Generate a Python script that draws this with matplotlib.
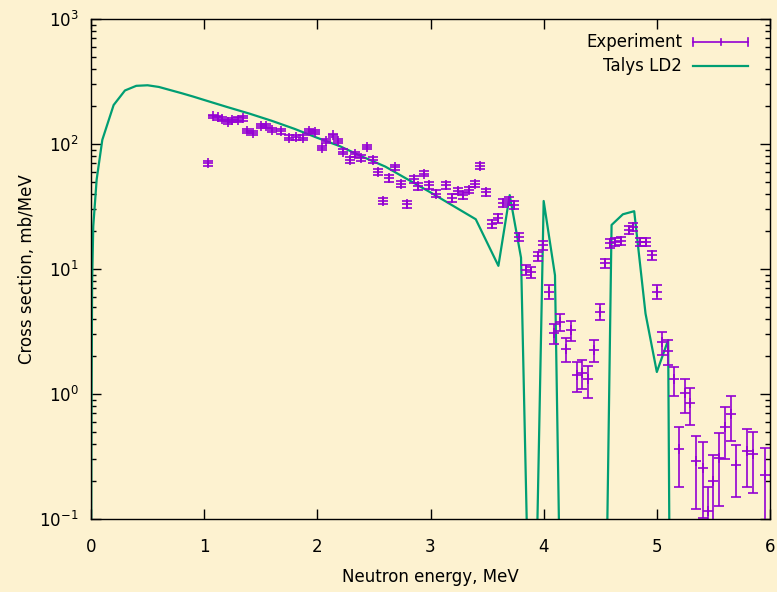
import matplotlib
matplotlib.use('Agg')
import matplotlib.pyplot as plt
from matplotlib.lines import Line2D
from matplotlib.ticker import LogLocator, NullLocator, MultipleLocator

# TALYS calculation (LD model 2), mb/MeV
talys_e = [0.001, 0.005, 0.01, 0.02, 0.05, 0.1, 0.2, 0.3, 0.4, 0.5,
           0.6, 0.7, 0.8, 0.9, 1.0, 1.2, 1.4, 1.6, 1.8, 2.0,
           2.2, 2.4, 2.6, 2.8, 3.0, 3.2, 3.4, 3.6, 3.7, 3.8,
           3.9, 4.0, 4.1, 4.2, 4.3, 4.4, 4.5, 4.6, 4.7, 4.8,
           4.9, 5.0, 5.1, 5.2]
talys_xs = [0.05, 1.0, 8.0, 22.0, 52.0, 108.0, 205.0, 268.0, 292.0, 295.0,
            286.0, 270.0, 255.0, 240.0, 225.0, 198.0, 175.0, 153.0, 132.0, 112.0,
            96.0, 79.0, 66.0, 52.0, 41.0, 32.0, 25.0, 10.6, 39.0, 12.3,
            8e-4, 35.0, 8.9, 2e-5, 1e-5, 1e-5, 1e-5, 22.5, 27.4, 29.0,
            4.4, 1.5, 2.7, 1e-14]

# measured spectrum
exp_e = [1.035, 1.08, 1.12, 1.16, 1.21, 1.25, 1.30, 1.34, 1.38, 1.43,
         1.50, 1.55, 1.60, 1.68, 1.75, 1.815, 1.875, 1.93, 1.98, 2.04,
         2.08, 2.14, 2.18, 2.23, 2.29, 2.33, 2.39, 2.44, 2.49, 2.54,
         2.58, 2.63, 2.69, 2.74, 2.79, 2.85, 2.89, 2.94, 2.99, 3.05,
         3.14, 3.19, 3.24, 3.29, 3.34, 3.395, 3.44, 3.49, 3.545, 3.595,
         3.64, 3.69, 3.74, 3.786, 3.845, 3.89, 3.948, 3.99, 4.045, 4.095,
         4.14, 4.20, 4.243, 4.296, 4.34, 4.39, 4.448, 4.50, 4.545, 4.59,
         4.63, 4.684, 4.75, 4.79, 4.855, 4.905, 4.954, 4.998, 5.046, 5.095,
         5.148, 5.20, 5.249, 5.296, 5.346, 5.405, 5.45, 5.50, 5.55, 5.60,
         5.655, 5.70, 5.80, 5.85, 5.955]
exp_xs = [70, 166, 163, 158, 150, 155, 157, 160, 128, 122,
          139, 139, 130, 126, 112, 113, 112, 127, 125, 93,
          106, 117, 106, 87, 75, 83, 77, 95, 75, 60,
          35, 53, 65, 48, 33, 52, 46, 58, 47, 40,
          47, 37, 42, 39, 43, 48, 67, 41, 23, 25.5,
          34, 35, 32.5, 18, 9.8, 9.4, 12.7, 15.6, 6.6, 3.06,
          3.8, 2.3, 3.25, 1.42, 1.48, 1.31, 2.25, 4.55, 11.1, 16,
          16.5, 16.8, 20.5, 21.8, 16.5, 16.5, 12.9, 6.6, 2.6, 2.2,
          1.31, 0.36, 1.02, 0.84, 0.29, 0.257, 0.115, 0.203, 0.306, 0.54,
          0.69, 0.27, 0.35, 0.33, 0.225]
exp_err = [3, 6, 6, 6, 6, 6, 6, 6, 5, 5,
           5, 5, 5, 5, 5, 5, 5, 5, 5, 4,
           4, 4, 4, 4, 4, 4, 4, 4, 4, 3,
           2, 3, 3, 3, 2, 3, 3, 3, 3, 2.5,
           3, 2.5, 2.5, 2.5, 2.5, 3, 4, 2.5, 1.8, 2,
           2.5, 2.5, 2.5, 1.4, 0.9, 0.9, 1.1, 1.3, 0.8, 0.55,
           0.6, 0.5, 0.6, 0.38, 0.38, 0.38, 0.45, 0.65, 1.0, 1.3,
           1.3, 1.3, 1.6, 1.7, 1.3, 1.3, 1.1, 0.8, 0.55, 0.5,
           0.34, 0.18, 0.31, 0.28, 0.17, 0.155, 0.065, 0.12, 0.18, 0.24,
           0.27, 0.12, 0.17, 0.17, 0.145]

bg = '#fdf2d0'
purple = '#9400d3'
green = '#009e73'
W, H = 777, 592

plt.rcParams['font.family'] = 'DejaVu Sans'
fig = plt.figure(figsize=(W / 100, H / 100), dpi=100, facecolor=bg)
ax = fig.add_axes([91 / W, 1 - 519 / H, 679 / W, 500 / H])
ax.set_facecolor(bg)

ax.plot(talys_e, talys_xs, color=green, lw=1.6)
ax.errorbar(exp_e, exp_xs, yerr=exp_err, fmt='+', color=purple, ms=7, mew=1.2,
            elinewidth=1.2, capsize=3.5, capthick=1.2)

ax.set_yscale('log')
ax.set_xlim(0, 6)
ax.set_ylim(0.1, 1000)
ax.xaxis.set_major_locator(MultipleLocator(1))
ax.xaxis.set_minor_locator(NullLocator())
ax.yaxis.set_major_locator(LogLocator(base=10, numticks=10))
ax.yaxis.set_minor_locator(LogLocator(base=10, subs=range(2, 10), numticks=10))

for s in ax.spines.values():
    s.set_linewidth(1.0)
    s.set_color('black')
ax.tick_params(which='both', direction='in', top=True, right=True, width=1.0,
               labelsize=12, colors='black')
ax.tick_params(which='major', length=7)
ax.tick_params(which='minor', length=3.5)
ax.tick_params(axis='x', pad=14)
ax.tick_params(axis='y', pad=9)

ax.set_xlabel('Neutron energy, MeV', fontsize=12)
ax.set_ylabel('Cross section, mb/MeV', fontsize=12)
ax.xaxis.set_label_coords(0.5, (519 - 577) / 500)
ax.xaxis.label.set_va('center')
ax.yaxis.set_label_coords((27 - 91) / 679, 0.5)
ax.yaxis.label.set_va('center')

# key, gnuplot style: text on the left, sample on the right
def fx(px):
    return px / W

def fy(py):
    return 1 - py / H

fig.text(fx(682), fy(42), 'Experiment', ha='right', va='center', fontsize=12)
fig.text(fx(682), fy(66), 'Talys LD2', ha='right', va='center', fontsize=12)
fig.add_artist(Line2D([fx(693), fx(748)], [fy(42), fy(42)], color=purple, lw=1.2))
for px, half in [(693, 4), (720.5, 3), (748, 4)]:
    fig.add_artist(Line2D([fx(px), fx(px)], [fy(42 - half), fy(42 + half)],
                          color=purple, lw=1.2))
fig.add_artist(Line2D([fx(693), fx(748)], [fy(66), fy(66)], color=green, lw=1.6))

fig.savefig('out.png', dpi=100, facecolor=bg)
